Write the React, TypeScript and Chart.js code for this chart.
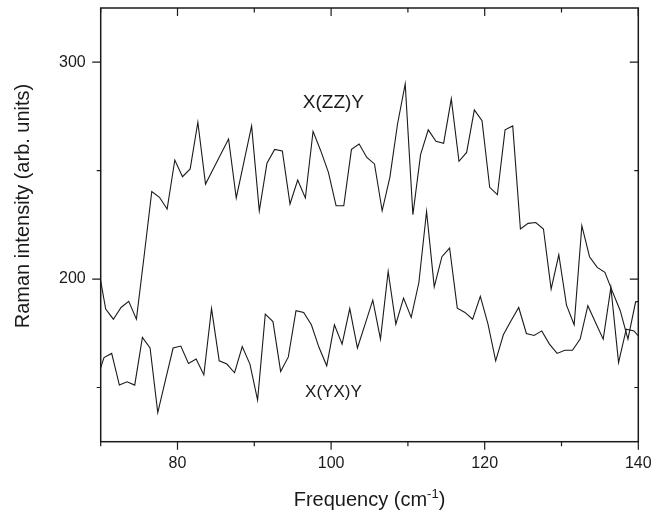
import React, { useEffect, useRef } from 'react';
import { Chart, registerables } from 'chart.js';

Chart.register(...registerables);

// ---- data ----
const zzFreq = [69.65,70.65,71.65,72.65,73.65,74.65,75.65,76.65,77.65,78.65,79.65,80.65,81.65,82.65,83.65,84.65,85.65,86.65,87.65,88.65,89.65,90.65,91.65,92.65,93.65,94.65,95.65,96.65,97.65,98.65,99.65,100.65,101.65,102.65,103.65,104.65,105.65,106.65,107.65,108.65,109.65,110.65,111.65,112.65,113.65,114.65,115.65,116.65,117.65,118.65,119.65,120.65,121.65,122.65,123.65,124.65,125.65,126.65,127.65,128.65,129.65,130.65,131.65,132.65,133.65,134.65,135.65,136.65,137.65,138.65,139.65,140.65];
const zzIntensity = [206,186.2,181.5,186.9,189.7,181.5,210.5,240.4,237.7,232.3,254.9,247.2,250.8,272.3,243.8,250.7,257.7,264.6,237.4,254,270.6,231.5,253.4,259.8,259.1,234.6,245.7,237.4,268.1,259.2,249.2,233.8,233.8,259.8,262.3,256.1,253.1,231.5,246.9,271.5,290,229.7,257.4,268.8,263.5,262.6,283.1,254.3,258.4,278,273,242.3,238.9,268.8,270.6,223.1,225.7,226.1,223.1,195.4,211.2,188,178.9,224.6,210.3,205.4,203.1,194.1,185.4,172.3,189.5,190];

const yxFreq = [69.43,70.43,71.43,72.43,73.43,74.43,75.43,76.43,77.43,78.43,79.43,80.43,81.43,82.43,83.43,84.43,85.43,86.43,87.43,88.43,89.43,90.43,91.43,92.43,93.43,94.43,95.43,96.43,97.43,98.43,99.43,100.43,101.43,102.43,103.43,104.43,105.43,106.43,107.43,108.43,109.43,110.43,111.43,112.43,113.43,114.43,115.43,116.43,117.43,118.43,119.43,120.43,121.43,122.43,123.43,124.43,125.43,126.43,127.43,128.43,129.43,130.43,131.43,132.43,133.43,134.43,135.43,136.43,137.43,138.43,139.43,140.43];
const yxIntensity = [153,163.8,165.7,151.1,152.6,151.1,173.1,168.2,138.4,153.4,168.2,169.1,161.1,163.1,155.8,186.4,162.3,160.8,156.8,168.9,160.8,144.2,183.8,180.4,157.4,164.1,185.4,184.6,178.9,168.4,160,178.9,170,186.4,168.2,179.2,190.3,172.3,203.5,179.2,191.2,182.3,198.4,231.2,196.4,210.3,214.3,186.6,184.6,181.5,192,179.2,162.3,174.3,180.8,186.9,174.9,174,176.1,170,165.7,167.2,167.2,172.3,187.7,180,172.3,196.1,161.5,176.9,176.1,172];

const seriesNames = ['X(ZZ)Y', 'X(YX)Y'];
const xTicks = [70, 80, 90, 100, 110, 120, 130, 140];
const xLabeled = [80, 100, 120, 140];
const yTicks = [150, 200, 250, 300];
const yLabeled = [200, 300];
const xRange = [70, 140];
const yRange = [125, 325];
const xTitle = ['Frequency (cm', '-1', ')'];
const yTitle = 'Raman intensity (arb. units)';

const FONT = '"Liberation Sans", Arial, Helvetica, sans-serif';
const INK = '#1a1a1a';

const framePlugin = {
  id: 'frameAndText',
  afterDraw(chart: any) {
    const { ctx, chartArea: a, scales } = chart;
    const xs = scales.x;
    const ys = scales.y;
    ctx.save();
    ctx.strokeStyle = INK;
    ctx.lineWidth = 1.5;
    ctx.strokeRect(a.left, a.top, a.right - a.left, a.bottom - a.top);
    ctx.lineWidth = 1.2;
    xTicks.forEach((v) => {
      const px = xs.getPixelForValue(v);
      const len = xLabeled.includes(v) ? 8 : 4.5;
      ctx.beginPath();
      ctx.moveTo(px, a.bottom);
      ctx.lineTo(px, a.bottom + len);
      ctx.moveTo(px, a.top);
      ctx.lineTo(px, a.top + len);
      ctx.stroke();
    });
    yTicks.forEach((v) => {
      const py = ys.getPixelForValue(v);
      const len = yLabeled.includes(v) ? 8.5 : 4;
      ctx.beginPath();
      ctx.moveTo(a.left, py);
      ctx.lineTo(a.left - len, py);
      ctx.moveTo(a.right, py);
      ctx.lineTo(a.right - len, py);
      ctx.stroke();
    });

    ctx.fillStyle = INK;
    // series annotations
    ctx.textAlign = 'center';
    ctx.textBaseline = 'alphabetic';
    ctx.font = `19px ${FONT}`;
    ctx.fillText(seriesNames[0], xs.getPixelForValue(100.3), ys.getPixelForValue(278.8));
    ctx.font = `17px ${FONT}`;
    ctx.fillText(seriesNames[1], xs.getPixelForValue(100.3), ys.getPixelForValue(145.6));

    // x title with superscript
    const big = `20px ${FONT}`;
    const small = `13px ${FONT}`;
    ctx.textAlign = 'left';
    ctx.font = big;
    const w0 = ctx.measureText(xTitle[0]).width;
    const w2 = ctx.measureText(xTitle[2]).width;
    ctx.font = small;
    const w1 = ctx.measureText(xTitle[1]).width;
    const cx = (a.left + a.right) / 2;
    let sx = cx - (w0 + w1 + w2) / 2;
    const base = 506;
    ctx.font = big;
    ctx.fillText(xTitle[0], sx, base);
    sx += w0;
    ctx.font = small;
    ctx.fillText(xTitle[1], sx, base - 8);
    sx += w1;
    ctx.font = big;
    ctx.fillText(xTitle[2], sx, base);

    // y title
    ctx.save();
    ctx.translate(28.5, 206);
    ctx.rotate(-Math.PI / 2);
    ctx.textAlign = 'center';
    ctx.font = big;
    ctx.fillText(yTitle, 0, 0);
    ctx.restore();

    ctx.restore();
  },
};

export default function App() {
  const ref = useRef<HTMLCanvasElement | null>(null);
  useEffect(() => {
    if (!ref.current) return;
    const chart = new Chart(ref.current, {
      type: 'line',
      data: {
        datasets: [
          {
            label: seriesNames[0],
            data: zzFreq.map((f, i) => ({ x: f, y: zzIntensity[i] })),
            borderColor: INK,
            borderWidth: 1.1,
            pointRadius: 0,
            tension: 0,
            fill: false,
          },
          {
            label: seriesNames[1],
            data: yxFreq.map((f, i) => ({ x: f, y: yxIntensity[i] })),
            borderColor: INK,
            borderWidth: 1.1,
            pointRadius: 0,
            tension: 0,
            fill: false,
          },
        ],
      },
      options: {
        animation: false,
        responsive: false,
        events: [],
        layout: { padding: { top: 8, right: 24.7, left: 0, bottom: 0 } },
        plugins: { legend: { display: false }, tooltip: { enabled: false }, title: { display: false } },
        scales: {
          x: {
            type: 'linear',
            min: xRange[0],
            max: xRange[1],
            grid: { display: false, drawTicks: false },
            border: { display: false },
            afterBuildTicks: (s: any) => {
              s.ticks = xTicks.map((value) => ({ value }));
            },
            afterFit: (s: any) => {
              s.height = 70.3;
              s.paddingLeft = 0;
              s.paddingRight = 0;
              s.paddingTop = 0;
              s.paddingBottom = 0;
            },
            ticks: {
              autoSkip: false,
              maxRotation: 0,
              padding: 12,
              color: INK,
              font: { family: FONT, size: 16 },
              callback: (v: any) => (xLabeled.includes(Number(v)) ? String(v) : ''),
            },
          },
          y: {
            type: 'linear',
            min: yRange[0],
            max: yRange[1],
            grid: { display: false, drawTicks: false },
            border: { display: false },
            afterBuildTicks: (s: any) => {
              s.ticks = yTicks.map((value) => ({ value }));
            },
            afterFit: (s: any) => {
              s.width = 100.7;
              s.paddingLeft = 0;
              s.paddingRight = 0;
              s.paddingTop = 0;
              s.paddingBottom = 0;
            },
            ticks: {
              autoSkip: false,
              padding: 15,
              color: INK,
              font: { family: FONT, size: 16 },
              callback: (v: any) => (yLabeled.includes(Number(v)) ? String(v) : ''),
            },
          },
        },
      },
      plugins: [framePlugin],
    });
    return () => chart.destroy();
  }, []);
  return (
    <div style={{ position: 'fixed', left: 0, top: 0, width: 663, height: 512, background: '#fff' }}>
      <canvas ref={ref} width={663} height={512} style={{ display: 'block' }} />
    </div>
  );
}
